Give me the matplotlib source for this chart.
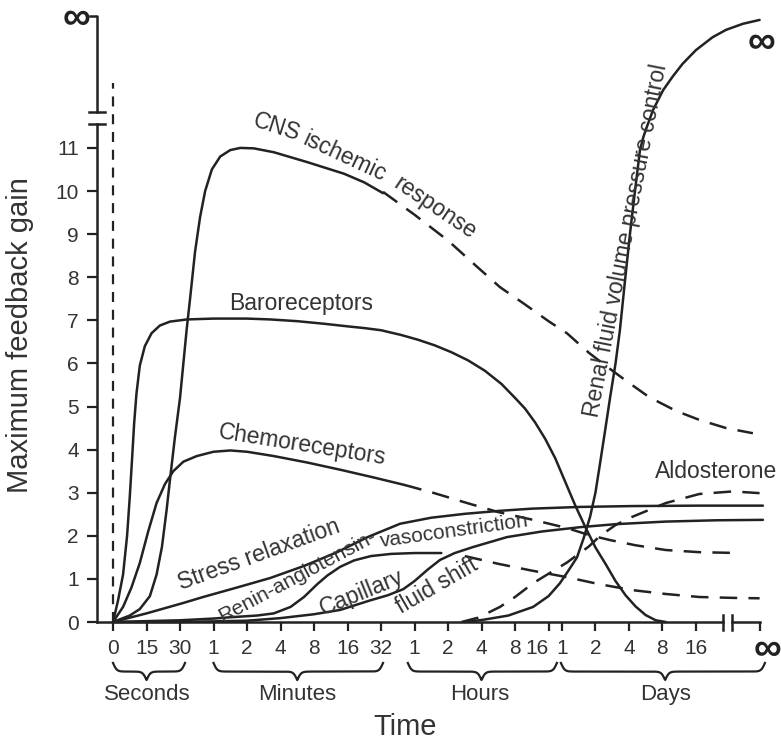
import numpy as np
import matplotlib.pyplot as plt

plt.rcParams['font.family'] = ['Liberation Sans', 'DejaVu Sans']

INK = '#222222'
TXT = '#333333'

# x values are slots on the stretched time axis (0 s ... 16 days, then infinity)
tick_pos = [0, 1, 2, 3, 4, 5, 6, 7, 8, 9, 10, 11, 12, 13, 13.4, 14.4, 15.4, 16.4, 17.4, 19.3]
tick_lab = ['0', '15', '30', '1', '2', '4', '8', '16', '32', '1', '2', '4', '8', '16',
            '1', '2', '4', '8', '16', '']
gain_ticks = list(range(12))
groups = ['Seconds', 'Minutes', 'Hours', 'Days']

baro_x = [0, 0.15, 0.3, 0.42, 0.5, 0.57, 0.63, 0.7, 0.8, 0.95, 1.15, 1.4, 1.7, 2.2, 3.0, 4.0,
          4.7, 5.5, 6.3, 7.0, 7.5, 8.0, 8.6, 9.1, 9.6, 10.1, 10.6, 11.1, 11.6, 12.0, 12.3,
          12.6, 12.9, 13.2, 13.5, 13.8, 14.1, 14.4, 14.7, 15.0, 15.3, 15.6, 15.9, 16.2, 16.5]
baro_y = [0, 0.5, 1.1, 2.0, 2.9, 3.8, 4.6, 5.3, 5.95, 6.4, 6.7, 6.88, 6.97, 7.02, 7.04, 7.04,
          7.02, 6.98, 6.92, 6.86, 6.82, 6.77, 6.66, 6.55, 6.42, 6.26, 6.07, 5.83, 5.52, 5.2,
          4.95, 4.63, 4.25, 3.8, 3.25, 2.7, 2.2, 1.73, 1.35, 0.95, 0.62, 0.36, 0.16, 0.04, 0.0]

cns_x = [0, 0.5, 0.8, 1.1, 1.3, 1.46, 1.6, 1.7, 1.85, 2.0, 2.1, 2.2, 2.3, 2.45, 2.6, 2.75,
         2.95, 3.2, 3.5, 3.8, 4.2, 4.8, 5.8, 6.9, 7.5, 8.06]
cns_y = [0, 0.15, 0.3, 0.6, 1.1, 1.74, 2.6, 3.3, 4.3, 5.2, 6.0, 6.8, 7.5, 8.6, 9.4, 10.0,
         10.5, 10.8, 10.95, 11.0, 10.99, 10.9, 10.67, 10.4, 10.2, 9.95]
cns_dash_x = [8.06, 9.0, 10.0, 10.87, 11.55, 12.24, 13.0, 13.55, 14.2, 14.75, 15.4, 16.0,
              16.8, 17.5, 18.3, 19.1]
cns_dash_y = [9.98, 9.45, 8.85, 8.24, 7.77, 7.4, 6.98, 6.7, 6.25, 5.92, 5.55, 5.22,
              4.9, 4.69, 4.5, 4.38]

chemo_x = [0, 0.3, 0.55, 0.8, 1.05, 1.3, 1.55, 1.8, 2.1, 2.5, 3.0, 3.5, 4.0, 4.8, 5.8, 6.8,
           7.8, 8.7]
chemo_y = [0, 0.35, 0.8, 1.37, 2.1, 2.76, 3.2, 3.5, 3.72, 3.85, 3.95, 3.98, 3.95, 3.85, 3.7,
           3.53, 3.35, 3.18]
chemo_dash_x = [8.7, 9.55, 10.57, 11.5, 12.54, 13.55, 14.2, 14.84, 15.6, 16.5, 17.5, 18.7]
chemo_dash_y = [3.18, 3.0, 2.76, 2.55, 2.37, 2.18, 2.02, 1.9, 1.78, 1.67, 1.62, 1.6]

stress_x = [0, 1.0, 2.09, 2.69, 3.7, 4.69, 5.7, 6.69, 7.6, 8.57, 9.5, 10.5, 11.55, 12.5,
            13.94, 15.5, 17.5, 19.4]
stress_y = [0, 0.2, 0.44, 0.58, 0.8, 1.02, 1.3, 1.62, 1.97, 2.28, 2.42, 2.51, 2.58, 2.63,
            2.67, 2.69, 2.7, 2.7]

renin_x = [0, 1.0, 2.0, 3.0, 3.5, 4.3, 4.8, 5.3, 5.7, 6.1, 6.4, 6.78, 7.2, 7.7, 8.3, 9.0, 9.8]
renin_y = [0, 0.02, 0.04, 0.08, 0.11, 0.15, 0.2, 0.35, 0.58, 0.88, 1.08, 1.28, 1.43, 1.53,
           1.58, 1.6, 1.6]
renin_dash_x = [10.5, 11.5, 12.45, 13.55, 14.5, 15.5, 16.5, 17.5, 18.5, 19.3]
renin_dash_y = [1.53, 1.35, 1.2, 1.04, 0.88, 0.74, 0.65, 0.58, 0.56, 0.55]

cap_x = [0, 2.0, 4.0, 5.0, 6.0, 6.78, 7.67, 8.2, 8.66, 9.0, 9.4, 9.76, 10.2, 10.75, 11.76,
         12.8, 13.94, 15.0, 16.5, 18.0, 19.4]
cap_y = [0, 0.0, 0.03, 0.09, 0.18, 0.28, 0.5, 0.62, 0.76, 0.95, 1.22, 1.44, 1.6, 1.74, 1.97,
         2.1, 2.2, 2.27, 2.33, 2.36, 2.37]

aldo_x = [10.4, 10.9, 11.55, 12.0, 12.54, 13.0, 13.55, 14.2, 14.54, 15.0, 15.5, 16.5, 17.5,
          18.5, 19.3]
aldo_y = [0.0, 0.1, 0.35, 0.58, 0.9, 1.12, 1.38, 1.75, 2.0, 2.25, 2.44, 2.76, 2.97, 3.03, 2.99]

renal_x = [10.5, 11.04, 11.8, 12.54, 13.0, 13.34, 13.6, 13.85, 14.05, 14.24, 14.4, 14.54,
           14.7, 14.84, 15.0, 15.13, 15.28, 15.43, 15.58, 15.73, 15.83, 15.94, 16.12, 16.42,
           16.7, 17.0, 17.4, 17.9, 18.3, 18.8, 19.3]
renal_y = [0.0, 0.05, 0.15, 0.35, 0.6, 0.9, 1.2, 1.5, 1.95, 2.44, 3.0, 3.69, 4.5, 5.22, 6.0,
           6.77, 7.9, 9.0, 10.0, 10.95, 11.25, 11.5, 11.88, 12.34, 12.65, 12.95, 13.27, 13.57,
           13.74, 13.88, 13.97]


def brace(ax, x0, x1, xm, ytop, h, beta=18):
    # curly bracket under a group of ticks, tip at xm
    xs = np.linspace(x0, x1, 400)
    v = np.where(xs <= xm,
                 1 / (1 + np.exp(-beta * (xs - x0))) + 1 / (1 + np.exp(-beta * (xs - xm))),
                 1 / (1 + np.exp(-beta * (x1 - xs))) + 1 / (1 + np.exp(-beta * (xm - xs))))
    ax.plot(xs, ytop - (v - 0.5) * h, color=INK, lw=1.6, clip_on=False)


fig = plt.figure(figsize=(7.81, 7.40), dpi=100)
ax = fig.add_axes([97 / 781, 118 / 740, 678 / 781, 616.3 / 740])
ax.set_xlim(-0.478, 19.76)
ax.set_ylim(0, 14.3)

solid = dict(color=INK, lw=1.8, solid_joinstyle='round', solid_capstyle='round', clip_on=False)
dashed = dict(color=INK, lw=1.8, ls=(0, (7, 4.5)), clip_on=False)

ax.plot([0, 0], [0, 12.5], color=INK, lw=1.6, ls=(0, (4.5, 3.5)))
ax.plot(baro_x, baro_y, **solid)
ax.plot(cns_x, cns_y, **solid)
ax.plot(cns_dash_x, cns_dash_y, **dashed)
ax.plot(chemo_x, chemo_y, **solid)
ax.plot(chemo_dash_x, chemo_dash_y, **dashed)
ax.plot(stress_x, stress_y, **solid)
ax.plot(renin_x, renin_y, **solid)
ax.plot(renin_dash_x, renin_dash_y, **dashed)
ax.plot(cap_x, cap_y, **solid)
ax.plot(aldo_x, aldo_y, **dashed)
ax.plot(renal_x, renal_y, **solid)

# axes with breaks
for s in ['top', 'right']:
    ax.spines[s].set_visible(False)
for s in ['left', 'bottom']:
    ax.spines[s].set_linewidth(1.8)
    ax.spines[s].set_color(INK)
ax.spines['left'].set_bounds(0, 11.55)
ax.spines['bottom'].set_bounds(-0.478, 18.21)
axis_kw = dict(color=INK, lw=1.8, clip_on=False)
ax.plot([-0.478, -0.478, -0.7], [11.83, 14.06, 14.06], **axis_kw)
ax.plot([-0.72, -0.24], [11.55, 11.55], **axis_kw)
ax.plot([-0.72, -0.24], [11.83, 11.83], **axis_kw)
ax.plot([18.48, 19.3], [0, 0], **axis_kw)
ax.plot([18.21, 18.21], [-0.19, 0.17], **axis_kw)
ax.plot([18.48, 18.48], [-0.19, 0.17], **axis_kw)

ax.set_xticks(tick_pos)
ax.set_xticklabels(tick_lab, fontsize=15, color=TXT)
ax.set_yticks(gain_ticks)
ax.set_yticklabels([str(t) for t in gain_ticks], fontsize=15, color=TXT)
ax.tick_params(axis='x', direction='out', length=6.5, width=1.6, pad=6, color=INK)
ax.tick_params(axis='y', direction='out', length=7, width=1.6, pad=6, color=INK)
ax.get_xticklabels()[13].set_ha('right')

ax.set_ylabel('Maximum feedback gain', fontsize=21, color=TXT, va='center')
ax.yaxis.set_label_coords(-0.1136, 0.4657)
ax.set_xlabel('Time', fontsize=21, color=TXT, va='center')
ax.xaxis.set_label_coords(0.454, -0.170)

inf_kw = dict(fontsize=28, fontweight='bold', color=INK, ha='center', va='center',
              clip_on=False)
ax.text(-1.10, 14.0, '\u221e', **inf_kw)
ax.text(19.37, 13.43, '\u221e', **inf_kw)
ax.text(19.55, -0.65, '\u221e', **inf_kw)

# time-unit brackets
brace(ax, 0, 2.15, 1.0, -0.95, 0.4)
brace(ax, 3.0, 8.06, 5.5, -0.95, 0.4)
brace(ax, 8.8, 13.25, 11.0, -0.95, 0.4)
brace(ax, 13.37, 19.46, 16.48, -0.95, 0.4)
for name, xc in zip(groups, [1.01, 5.49, 10.96, 16.48]):
    ax.text(xc, -1.69, name, fontsize=16, color=TXT, ha='center', va='center')

lab = dict(fontsize=16.5, color=TXT, ha='center', va='center', rotation_mode='anchor')
ax.text(4.90, 11.48, 'CNS', rotation=-18, **lab)
ax.text(6.90, 10.79, 'ischemic', rotation=-25, **lab)
ax.text(9.61, 9.61, 'response', rotation=-34, **lab)
ax.text(5.61, 7.40, 'Baroreceptors', **lab)
ax.text(5.64, 4.11, 'Chemoreceptors', rotation=-9, **lab)
ax.text(4.35, 1.56, 'Stress relaxation', rotation=20, **lab)
ax.text(5.5, 1.06, 'Renin-angiotensin-', rotation=28, **dict(lab, fontsize=15))
ax.text(10.18, 2.1, 'vasoconstriction', rotation=8, **dict(lab, fontsize=15))
ax.text(7.43, 0.67, 'Capillary', rotation=22, **lab)
ax.text(9.68, 0.84, 'fluid shift', rotation=30, **lab)
ax.text(18.0, 3.50, 'Aldosterone', **lab)
ax.text(15.31, 8.84, 'Renal fluid volume pressure control', rotation=79, **lab)

fig.savefig('out.png', dpi=100)
